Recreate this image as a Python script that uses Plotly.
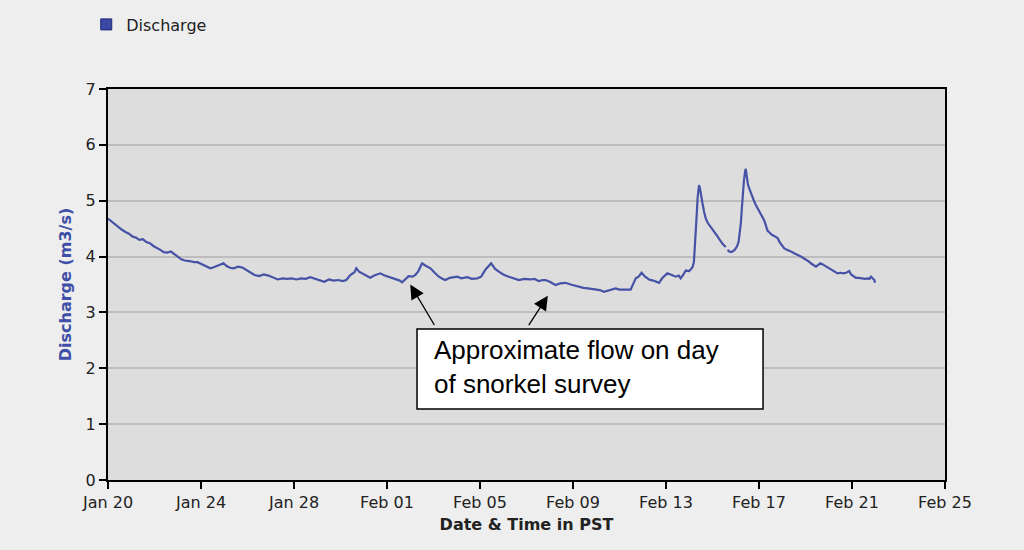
import pandas as pd
import plotly.graph_objects as go

# Discharge record, time in days after Jan 20 00:00 PST (None marks a data gap)
start_date = "2009-01-20"
day_offsets = [
    0.00, 0.15, 0.30, 0.45, 0.60, 0.75, 0.90,
    1.05, 1.20, 1.35, 1.50, 1.65, 1.80, 1.95,
    2.10, 2.25, 2.40, 2.55, 2.70, 2.85,
    3.00, 3.15, 3.30, 3.50, 3.70, 3.85,
    4.00, 4.20, 4.40, 4.55, 4.70, 4.85, 4.97,
    5.10, 5.25, 5.40, 5.60, 5.80, 5.95,
    6.10, 6.30, 6.50, 6.70, 6.90,
    7.10, 7.30, 7.50, 7.70, 7.90,
    8.10, 8.30, 8.50, 8.70, 8.90,
    9.10, 9.30, 9.50, 9.70, 9.90,
    10.10, 10.25, 10.42, 10.60, 10.68, 10.80, 10.93,
    11.10, 11.28, 11.45, 11.60, 11.71, 11.90,
    12.05, 12.22, 12.40, 12.55, 12.65, 12.80, 12.93,
    13.10, 13.22, 13.35, 13.51, 13.65, 13.87,
    14.05, 14.23, 14.40, 14.51, 14.70, 14.85,
    15.02, 15.20, 15.45, 15.65, 15.88,
    16.05, 16.24, 16.48, 16.65, 16.81,
    17.00, 17.24, 17.45, 17.67, 17.90,
    18.17, 18.35, 18.53, 18.70, 18.82,
    19.00, 19.25, 19.45, 19.68, 19.90,
    20.05, 20.25, 20.45, 20.65, 20.83,
    21.00, 21.15, 21.33, 21.50, 21.70, 21.83,
    22.00, 22.20, 22.35, 22.48, 22.60, 22.70, 22.82, 22.95,
    23.10, 23.27, 23.45, 23.60, 23.70, 23.85,
    24.06, 24.25, 24.42, 24.55, 24.63, 24.75, 24.85,
    25.00, 25.14, 25.20, 25.25, 25.30, 25.36, 25.42, 25.47, 25.52, 25.57,
    25.64, 25.71, 25.80, 25.90,
    26.00, 26.10, 26.20, 26.28, 26.36, 26.45, 26.52, 26.57,
    26.61,
    26.65, 26.72, 26.80, 26.86, 26.95,
    27.05, 27.12, 27.18, 27.22, 27.26, 27.30, 27.35, 27.40, 27.43, 27.47,
    27.52, 27.58, 27.65, 27.72, 27.80, 27.87, 27.94,
    28.02, 28.08, 28.15, 28.22, 28.30, 28.37, 28.45, 28.55, 28.65, 28.80,
    28.90, 28.98,
    29.08, 29.20, 29.32, 29.42, 29.51, 29.62, 29.72, 29.80, 29.92,
    30.05, 30.15, 30.23, 30.35, 30.45, 30.55, 30.64, 30.74, 30.85, 30.95,
    31.02, 31.12, 31.25, 31.38, 31.50, 31.62, 31.75, 31.88, 31.96,
    32.05, 32.17, 32.30, 32.42, 32.55, 32.67, 32.75, 32.82, 32.90, 32.96, 32.99,
]
discharge = [
    4.68, 4.63, 4.57, 4.52, 4.48, 4.44, 4.41,
    4.36, 4.34, 4.30, 4.31, 4.26, 4.24, 4.19,
    4.16, 4.12, 4.08, 4.07, 4.09, 4.05,
    4.00, 3.95, 3.93, 3.92, 3.90, 3.90,
    3.87, 3.84, 3.79, 3.81, 3.84, 3.86, 3.88,
    3.83, 3.80, 3.79, 3.82, 3.80, 3.76,
    3.72, 3.67, 3.65, 3.68, 3.66,
    3.63, 3.59, 3.61, 3.60, 3.61,
    3.59, 3.61, 3.60, 3.63, 3.60,
    3.58, 3.55, 3.59, 3.57, 3.58,
    3.56, 3.58, 3.67, 3.72, 3.79, 3.73, 3.70,
    3.66, 3.62, 3.66, 3.69, 3.70, 3.66,
    3.64, 3.62, 3.59, 3.57, 3.54, 3.60, 3.65,
    3.64, 3.67, 3.74, 3.88, 3.84, 3.79,
    3.71, 3.64, 3.60, 3.58, 3.62, 3.63,
    3.64, 3.61, 3.63, 3.60, 3.61,
    3.64, 3.77, 3.88, 3.78, 3.73,
    3.68, 3.64, 3.61, 3.58, 3.60,
    3.59, 3.60, 3.56, 3.58, 3.58,
    3.55, 3.49, 3.52, 3.53, 3.50,
    3.48, 3.46, 3.44, 3.43, 3.42,
    3.41, 3.40, 3.37, 3.39, 3.41, 3.43,
    3.41, 3.41, 3.40, 3.41, 3.52, 3.61, 3.64, 3.71,
    3.64, 3.59, 3.57, 3.54, 3.53, 3.62,
    3.70, 3.67, 3.64, 3.66, 3.61, 3.68, 3.75,
    3.74, 3.81, 3.90, 4.18, 4.60, 5.05, 5.28, 5.20, 5.05, 4.95,
    4.80, 4.68, 4.60, 4.55,
    4.48, 4.43, 4.37, 4.31, 4.27, 4.22, 4.18, 4.17,
    None,
    4.12, 4.09, 4.08, 4.09, 4.12,
    4.18, 4.26, 4.42, 4.60, 4.85, 5.10, 5.35, 5.52, 5.57, 5.45,
    5.30, 5.22, 5.14, 5.05, 4.98, 4.92, 4.86,
    4.82, 4.77, 4.71, 4.65, 4.55, 4.46, 4.43, 4.39, 4.37, 4.33,
    4.25, 4.20,
    4.15, 4.12, 4.09, 4.08, 4.06, 4.04, 4.02, 4.00, 3.97,
    3.94, 3.91, 3.88, 3.85, 3.82, 3.85, 3.88, 3.86, 3.83, 3.81,
    3.79, 3.77, 3.73, 3.70, 3.71, 3.70, 3.71, 3.74, 3.68,
    3.65, 3.62, 3.62, 3.61, 3.60, 3.61, 3.60, 3.64, 3.61, 3.58, 3.53,
]

# Axis extents and callout text
x_start, x_end = "2009-01-20", "2009-02-25"
y_max = 7
series_name = "Discharge"
callout_text = "Approximate flow on day<br>of snorkel survey"
# Survey days the callout arrows point at (time, discharge)
survey_points = [("2009-02-02 00:00", 3.50), ("2009-02-07 22:00", 3.30)]

times = pd.Timestamp(start_date) + pd.to_timedelta(day_offsets, unit="D")

LINE_BLUE = "#4652a6"
TITLE_BLUE = "#3f4ea6"
FONT = "DejaVu Sans"

fig = go.Figure()
fig.add_trace(go.Scatter(
    x=times, y=discharge, mode="lines", connectgaps=False,
    line=dict(color=LINE_BLUE, width=2.2), showlegend=False,
))
# Square legend key
fig.add_trace(go.Scatter(
    x=[None], y=[None], mode="markers", name=series_name,
    marker=dict(symbol="square", size=11, color="#3a48a6",
                line=dict(color="#1d2670", width=1)),
))

# White callout box with its text
fig.add_shape(type="rect", xref="paper", yref="paper",
              x0=0.3692, x1=0.7826, y0=0.1816, y1=0.3862,
              fillcolor="white", line=dict(color="black", width=1.5), layer="above")
fig.add_annotation(xref="paper", yref="paper", x=0.3870, y=0.289,
                   xanchor="left", yanchor="middle", align="left",
                   text=callout_text, showarrow=False,
                   font=dict(family="Liberation Sans, Arial", size=26, color="black"))
for (t, q), (ax, ay) in zip(survey_points, [(25, 42), (-20, 31)]):
    fig.add_annotation(x=t, y=q, xref="x", yref="y", text="", showarrow=True,
                       ax=ax, ay=ay, arrowhead=2, arrowsize=2.2, arrowwidth=1.3,
                       arrowcolor="black")

fig.update_layout(
    width=1024, height=550,
    margin=dict(l=108, r=79, t=89, b=70, autoexpand=False),
    paper_bgcolor="#eeeeee", plot_bgcolor="#dddddd",
    font=dict(family=FONT, size=16, color="#222222"),
    legend=dict(x=-0.026, y=1.165, xanchor="left", yanchor="middle",
                bgcolor="rgba(0,0,0,0)", font=dict(size=16, color="#222222")),
)
fig.update_xaxes(
    type="date", range=[x_start, x_end],
    tick0=x_start, dtick=4 * 86400000, tickformat="%b %d",
    ticks="outside", ticklen=7, tickcolor="black", tickwidth=1.5,
    showline=True, linecolor="black", linewidth=2, mirror=True,
    showgrid=False, zeroline=False,
    tickfont=dict(size=16, color="#222222"),
    title=dict(text="<b>Date & Time in PST</b>", standoff=8,
               font=dict(size=16, color="#222222")),
)
fig.update_yaxes(
    range=[0, y_max], dtick=1,
    ticks="outside", ticklen=7, tickcolor="black", tickwidth=1.5,
    showline=True, linecolor="black", linewidth=2, mirror=True,
    showgrid=True, gridcolor="#bdbdbd", gridwidth=1.5, zeroline=False,
    tickfont=dict(size=16, color="#222222"),
    title=dict(text="<b>Discharge (m3/s)</b>", standoff=10,
               font=dict(size=16, color=TITLE_BLUE)),
)

fig.write_html("out.html")
